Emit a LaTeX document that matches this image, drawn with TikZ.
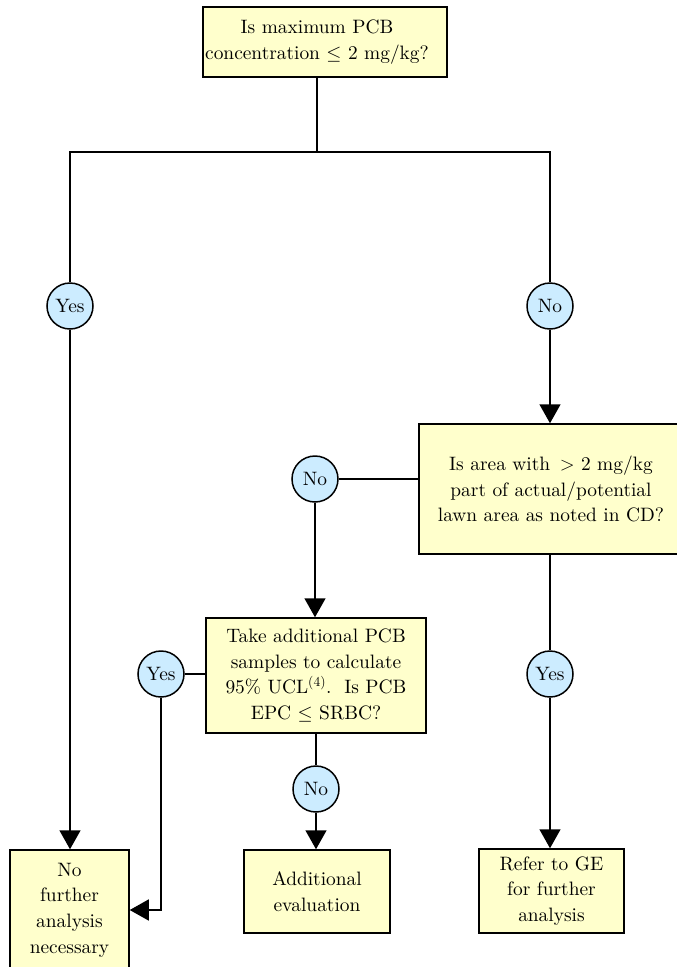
\RequirePackage{fix-cm}
\documentclass[tikz,border=0pt]{standalone}
\usepackage{fontspec}
\setmainfont{lmroman10-regular.otf}
\usetikzlibrary{arrows.meta}
\definecolor{boxyellow}{HTML}{FFFFCC}
\definecolor{ansblue}{HTML}{CCECFF}

\begin{document}
\begin{tikzpicture}[x=1pt,y=-1pt,>={Triangle[width=21pt,length=19pt]},line width=1.5pt,
  font=\fontsize{19.4}{25.6}\selectfont,
  box/.style={draw,fill=boxyellow,align=center,inner sep=0pt},
  ans/.style={draw,circle,fill=ansblue,minimum size=46pt,inner sep=0pt}]
  \useasboundingbox (0,0) rectangle (677,967);
  % first question and the split below it
  \node[box,minimum width=244,minimum height=70] (top) at (325,42) {};
  \node[align=center] (toplbl) at (317,42) {Is maximum PCB\\concentration $\le$ 2 mg/kg?};
  \node[ans] (yes1) at (70,306) {Yes};
  \node[ans] (no1) at (550,306) {No};
  \coordinate (split) at (317,152);
  \draw (toplbl |- top.south) -- (split);
  \draw (yes1) |- (split) -| (no1);
  % lawn area question
  \node[box,minimum width=264,minimum height=130] (area) at (551,489) {Is area with\enspace$>$ 2 mg/kg\\part of actual/potential\\lawn area as noted in CD?};
  \draw[->] (no1) -- (no1 |- area.north);
  \node[ans] (no2) at (315,479) {No};
  \draw (no2) -- (no2 -| area.west);
  % extra sampling
  \node[box,minimum width=220,minimum height=115] (take) at (316,675.5) {Take additional PCB\\samples to calculate\\95\% UCL\textsuperscript{(4)}.\ \ Is PCB\\EPC $\le$ SRBC?};
  \draw[->] (no2) -- (no2 |- take.north);
  \node[ans] (yes2) at (161,674) {Yes};
  \draw (yes2) -- (yes2 -| take.west);
  \node[ans] (no3) at (316,789) {No};
  \draw (take.south) -- (no3);
  \node[ans] (yes3) at (550,674) {Yes};
  \draw (yes3 |- area.south) -- (yes3);
  % outcomes
  \node[box,minimum width=119,minimum height=120] (done) at (69.5,910) {No\\further\\analysis\\necessary};
  \draw[->] (yes1) -- (yes1 |- done.north);
  \draw[->] (yes2) |- (done.east);
  \node[box,minimum width=146,minimum height=83] (more) at (317,891.5) {Additional\\evaluation};
  \draw[->] (no3) -- (no3 |- more.north);
  \node[box,minimum width=145,minimum height=84] (refer) at (551.5,891) {Refer to GE\\for further\\analysis};
  \draw[->] (yes3) -- (yes3 |- refer.north);
\end{tikzpicture}
\end{document}
